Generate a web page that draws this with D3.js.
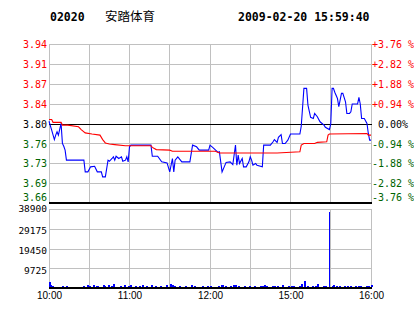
<!DOCTYPE html>
<html>
<head>
<meta charset="utf-8">
<script src="https://cdn.jsdelivr.net/npm/d3@7"></script>
<style>
  html, body { margin: 0; padding: 0; background: #fff; }
  svg { display: block; }
</style>
</head>
<body>
<script>
// header
const stockCode = '02020'
const stockName = '安踏体育'
const stamp = '2009-02-20 15:59:40'

// previous close and percent levels of the price panel
const prevClose = 3.80
const pctLevels = [3.76, 2.82, 1.88, 0.94, 0, -0.94, -1.88, -2.82, -3.76]
const priceLabels = ['3.94', '3.91', '3.87', '3.84', '3.80', '3.76', '3.73', '3.69', '3.66']
const pctLabels = ['+3.76 %', '+2.82 %', '+1.88 %', '+0.94 %', '\u00a00.00%', '-0.94 %', '-1.88 %', '-2.82 %', '-3.76 %']

// volume ticks
const volMax = 38900
const volTicks = [38900, 29175, 19450, 9725]

// time axis, minutes of trading from 10:00 (lunch break removed)
const sessionMinutes = 240
const timeTicks = [0, 60, 120, 180, 240]
const timeLabels = ['10:00', '11:00', '12:00', '15:00', '16:00']
const gridMinutes = [0, 30, 60, 90, 120, 150, 180, 210, 240]

// last price [minute, price]
const price = [
  [0, 3.805], [2, 3.789], [4, 3.772], [5, 3.780], [6, 3.786], [7, 3.780], [9, 3.801],
  [10, 3.765], [11, 3.760], [12, 3.753], [13, 3.735], [26, 3.735], [27, 3.714], [29, 3.714],
  [31, 3.723], [34, 3.724], [36, 3.714], [39, 3.714], [40, 3.705], [42, 3.705], [44, 3.735],
  [45, 3.733], [47, 3.738], [48, 3.741], [49, 3.735], [50, 3.742], [52, 3.738], [54, 3.741],
  [55, 3.733], [57, 3.735], [58, 3.741], [59, 3.732], [60, 3.759], [61, 3.762], [76, 3.762],
  [77, 3.742], [81, 3.742], [84, 3.732], [88, 3.730], [90, 3.714], [92, 3.738], [93, 3.714],
  [94, 3.735], [96, 3.741], [99, 3.732], [105, 3.732], [107, 3.762], [110, 3.759], [112, 3.753],
  [119, 3.753], [120, 3.762], [122, 3.758], [126, 3.749], [127, 3.750], [129, 3.714], [132, 3.731],
  [135, 3.732], [137, 3.727], [139, 3.762], [140, 3.726], [141, 3.744], [142, 3.729], [144, 3.738],
  [145, 3.723], [147, 3.723], [149, 3.732], [150, 3.741], [151, 3.735], [152, 3.726], [154, 3.729],
  [155, 3.726], [159, 3.723], [160, 3.762], [165, 3.762], [167, 3.768], [168, 3.772], [170, 3.767],
  [171, 3.776], [173, 3.781], [174, 3.765], [176, 3.765], [178, 3.771], [180, 3.782], [187, 3.782],
  [188, 3.796], [190, 3.864], [192, 3.864], [193, 3.834], [195, 3.812], [197, 3.810], [198, 3.819],
  [200, 3.813], [202, 3.804], [205, 3.798], [206, 3.794], [209, 3.790], [210, 3.800], [211, 3.864],
  [212, 3.864], [213, 3.857], [215, 3.846], [216, 3.831], [218, 3.855], [219, 3.855], [221, 3.840],
  [222, 3.819], [224, 3.819], [225, 3.822], [226, 3.836], [230, 3.836], [231, 3.848], [232, 3.836],
  [233, 3.810], [235, 3.810], [237, 3.801], [238, 3.783], [239, 3.771], [240, 3.771]
]

// average price [minute, price]
const avgPrice = [
  [0, 3.808], [2, 3.808], [3, 3.803], [9, 3.803], [10, 3.798], [14, 3.798], [22, 3.795],
  [24, 3.790], [27, 3.784], [32, 3.782], [38, 3.780], [40, 3.772], [42, 3.766], [45, 3.764],
  [49, 3.763], [57, 3.761], [76, 3.761], [77, 3.758], [80, 3.754], [90, 3.753], [92, 3.751],
  [124, 3.751], [127, 3.748], [170, 3.748], [187, 3.750], [188, 3.762], [190, 3.765], [198, 3.765],
  [200, 3.767], [207, 3.768], [208, 3.780], [209, 3.782], [237, 3.783], [238, 3.780], [240, 3.780]
]

// volume [minute, shares]
const volume = [
  [0, 3200], [1, 1500], [2, 1000], [5, 800], [6, 900], [9, 700], [10, 1000], [12, 900], [13, 1100],
  [23, 900], [25, 1400], [26, 700], [28, 1600], [30, 1100], [31, 800], [33, 1800], [35, 1000],
  [36, 1400], [38, 700], [40, 1900], [41, 1200], [43, 800], [44, 1600], [46, 1100], [48, 2000],
  [49, 900], [51, 700], [53, 1400], [55, 900], [56, 1700], [58, 800], [59, 1200], [60, 1900],
  [62, 900], [64, 1400], [65, 800], [67, 1100], [69, 1500], [71, 800], [72, 1200], [74, 700],
  [76, 1600], [78, 900], [79, 1200], [81, 800], [83, 1400], [85, 900], [87, 1700], [88, 800],
  [90, 2200], [92, 1600], [93, 1200], [95, 900], [97, 1100], [99, 800], [101, 1400], [103, 900],
  [104, 700], [106, 1500], [108, 1100], [110, 800], [112, 900], [114, 1200], [116, 800], [118, 1100],
  [120, 1400], [122, 900], [124, 800], [126, 1200], [128, 1600], [129, 1800], [131, 1100], [133, 900],
  [135, 1200], [137, 1500], [139, 1700], [141, 1100], [143, 900], [145, 1400], [147, 800], [149, 1200],
  [151, 900], [153, 1100], [155, 800], [157, 1400], [159, 1200], [160, 1800], [162, 1200], [164, 900],
  [166, 1100], [168, 1400], [170, 1200], [172, 800], [174, 1500], [176, 900], [178, 1200], [180, 1100],
  [182, 1400], [184, 900], [186, 1200], [188, 2000], [190, 3600], [192, 1200], [194, 900], [196, 1400],
  [198, 1100], [200, 2200], [202, 900], [204, 1200], [206, 1100], [209, 37900], [211, 1400], [212, 1600],
  [214, 1100], [216, 1200], [218, 900], [220, 1400], [222, 1100], [224, 1200], [226, 900], [228, 1400],
  [230, 1100], [232, 1200], [234, 900], [236, 1400], [238, 1200], [240, 1500]
]

const width = 414
const height = 314

const svg = d3.select('body')
  .append('svg')
  .attr('width', width)
  .attr('height', height)

// panel edges
const left = 49
const right = 371
const priceTop = 44.5
const priceBottom = 203.5
const volTop = 209.5
const volBottom = 288.5

const xScale = d3.scaleLinear().domain([0, sessionMinutes]).range([left, right])
const yPrice = d3.scaleLinear()
  .domain([prevClose * (1 - 0.0376), prevClose * (1 + 0.0376)])
  .range([priceBottom, priceTop])
const yVol = d3.scaleLinear().domain([0, volMax]).range([volBottom, volTop])

const crisp = v => Math.round(v - 0.5) + 0.5
const levelPrice = p => prevClose * (1 + p / 100)
const levelColor = p => p > 0 ? '#ff0000' : (p < 0 ? '#006400' : '#000000')

// header text
svg.append('text')
  .text(stockCode)
  .attr('x', 50).attr('y', 21)
  .attr('font-family', 'DejaVu Sans Mono').attr('font-weight', 'bold').attr('font-size', 11.5)
svg.append('text')
  .text(stockName)
  .attr('x', 105).attr('y', 21)
  .attr('font-family', 'Noto Sans CJK SC').attr('font-size', 12.5)
svg.append('text')
  .text(stamp)
  .attr('x', 238).attr('y', 21)
  .attr('font-family', 'DejaVu Sans Mono').attr('font-weight', 'bold').attr('font-size', 11.5)

// grid: vertical lines in both panels
const grid = svg.append('g').attr('stroke', '#c0c0c0').attr('shape-rendering', 'crispEdges')
grid.selectAll('.vgrid')
  .data(gridMinutes)
  .enter()
  .append('line')
    .attr('x1', d => crisp(xScale(d))).attr('x2', d => crisp(xScale(d)))
    .attr('y1', priceTop).attr('y2', priceBottom)
grid.selectAll('.vgrid2')
  .data(gridMinutes)
  .enter()
  .append('line')
    .attr('x1', d => crisp(xScale(d))).attr('x2', d => crisp(xScale(d)))
    .attr('y1', volTop).attr('y2', volBottom)

// horizontal price grid
grid.selectAll('.hgrid')
  .data(pctLevels.filter(p => p !== 0 && p !== -3.76))
  .enter()
  .append('line')
    .attr('x1', left).attr('x2', right + 1)
    .attr('y1', d => crisp(yPrice(levelPrice(d)))).attr('y2', d => crisp(yPrice(levelPrice(d))))

// horizontal volume grid
grid.selectAll('.vhgrid')
  .data(volTicks)
  .enter()
  .append('line')
    .attr('x1', left).attr('x2', right + 1)
    .attr('y1', d => crisp(yVol(d))).attr('y2', d => crisp(yVol(d)))

// previous close line and panel bottoms
svg.append('line')
  .attr('x1', left).attr('x2', right + 1)
  .attr('y1', crisp(yPrice(prevClose))).attr('y2', crisp(yPrice(prevClose)))
  .attr('stroke', '#000').attr('shape-rendering', 'crispEdges')
svg.append('line')
  .attr('x1', left).attr('x2', right + 1)
  .attr('y1', 203).attr('y2', 203)
  .attr('stroke', '#000').attr('stroke-width', 2).attr('shape-rendering', 'crispEdges')
svg.append('line')
  .attr('x1', left).attr('x2', right + 1)
  .attr('y1', 288).attr('y2', 288)
  .attr('stroke', '#000').attr('stroke-width', 2).attr('shape-rendering', 'crispEdges')

// left price axis
const yAxisLeft = d3.axisLeft(yPrice)
  .tickValues(pctLevels.map(levelPrice))
  .tickFormat((d, i) => priceLabels[i])
  .tickSize(0)
  .tickPadding(2)
const gl = svg.append('g').attr('transform', `translate(${left},0)`).call(yAxisLeft)
gl.select('.domain').remove()
gl.selectAll('text')
  .attr('font-family', 'DejaVu Sans Mono').attr('font-size', 10)
  .attr('fill', (d, i) => levelColor(pctLevels[i]))
  // lowest label sits above the panel's bottom line
  .attr('y', (d, i) => i === pctLevels.length - 1 ? -6 : 0)

// right percent axis
const yAxisRight = d3.axisRight(yPrice)
  .tickValues(pctLevels.map(levelPrice))
  .tickFormat((d, i) => pctLabels[i])
  .tickSize(0)
  .tickPadding(1)
const gr = svg.append('g').attr('transform', `translate(${right},0)`).call(yAxisRight)
gr.select('.domain').remove()
gr.selectAll('text')
  .attr('font-family', 'DejaVu Sans Mono').attr('font-size', 10)
  .attr('fill', (d, i) => levelColor(pctLevels[i]))
  .attr('y', (d, i) => i === pctLevels.length - 1 ? -6 : 0)

// volume axis
const volAxis = d3.axisLeft(yVol)
  .tickValues(volTicks)
  .tickFormat(d3.format('d'))
  .tickSize(0)
  .tickPadding(2)
const gv = svg.append('g').attr('transform', `translate(${left},0)`).call(volAxis)
gv.select('.domain').remove()
gv.selectAll('text')
  .attr('font-family', 'DejaVu Sans Mono').attr('font-size', 9.5).attr('fill', '#000')
  .attr('y', (d, i) => i === 0 ? -1.5 : 1.5)

// time axis
const xAxis = d3.axisBottom(xScale)
  .tickValues(timeTicks)
  .tickFormat((d, i) => timeLabels[i])
  .tickSize(0)
  .tickPadding(3)
const gx = svg.append('g').attr('transform', 'translate(0,289)').call(xAxis)
gx.select('.domain').remove()
gx.selectAll('text')
  .attr('font-family', 'Liberation Sans').attr('font-size', 10).attr('fill', '#000')

// volume bars
svg.append('g')
  .selectAll('rect')
  .data(volume)
  .enter()
  .append('rect')
    .attr('x', d => Math.round(xScale(d[0])))
    .attr('y', d => Math.round(yVol(d[1])))
    .attr('width', d => d[1] > 20000 ? 1 : 2)
    .attr('height', d => 287 - Math.round(yVol(d[1])))
    .attr('fill', '#0000ff')
    .attr('shape-rendering', 'crispEdges')

// price line
const line = d3.line().x(d => xScale(d[0])).y(d => yPrice(d[1]))
svg.append('path')
  .datum(price)
  .attr('d', line)
  .attr('fill', 'none')
  .attr('stroke', '#0000ff')
  .attr('stroke-width', 1.1)

// average line
svg.append('path')
  .datum(avgPrice)
  .attr('d', line)
  .attr('fill', 'none')
  .attr('stroke', '#ff0000')
  .attr('stroke-width', 1.1)
</script>
</body>
</html>
